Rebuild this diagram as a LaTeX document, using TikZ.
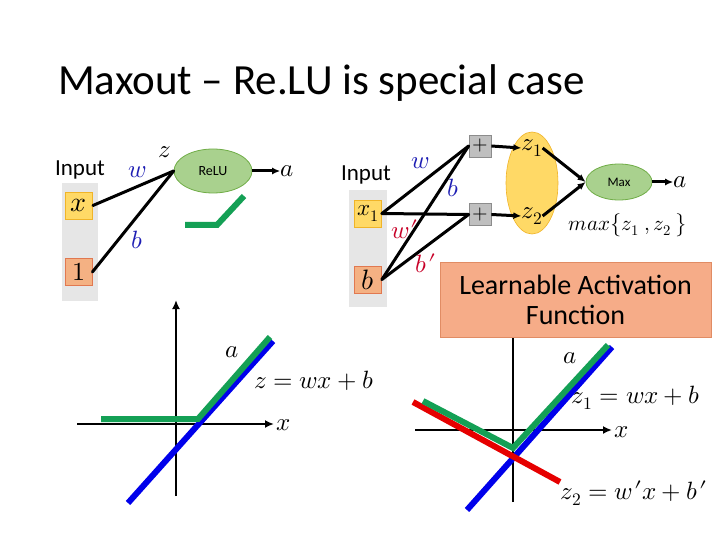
\documentclass[tikz,border=0pt]{standalone}
\usepackage{fontspec}
\usepackage{unicode-math}
\setmainfont{Carlito}
\setmathfont{Latin Modern Math}
\usetikzlibrary{arrows.meta,shapes.geometric}
\definecolor{ggreen}{RGB}{20,160,85}
\definecolor{gblue}{RGB}{0,0,235}
\definecolor{gred}{RGB}{230,0,0}
\definecolor{lblue}{RGB}{30,30,180}
\definecolor{lred}{RGB}{200,0,40}
\definecolor{yfill}{RGB}{255,217,102}
\definecolor{ydraw}{RGB}{240,180,40}
\definecolor{sfill}{RGB}{244,177,131}
\definecolor{sdraw}{RGB}{225,120,80}
\definecolor{gfill}{RGB}{169,209,142}
\definecolor{gdraw}{RGB}{112,173,71}
\definecolor{band}{RGB}{230,230,230}
\definecolor{pfill}{RGB}{191,191,191}
\definecolor{pdraw}{RGB}{140,140,140}
\definecolor{lfill}{RGB}{246,172,136}
\definecolor{ldraw}{RGB}{225,140,100}
\newcommand{\pr}{\mkern1mu\prime}
\tikzset{
  fs/.style={font=\fontsize{#1}{#1}\selectfont},
  inbox/.style={draw=ydraw, fill=yfill, line width=0.8pt, minimum width=27pt, minimum height=27pt, inner sep=0pt},
  onebox/.style={draw=sdraw, fill=sfill, line width=0.8pt, minimum width=27pt, minimum height=27pt, inner sep=0pt},
  actell/.style={ellipse, draw=gdraw, fill=gfill, line width=0.8pt, inner sep=0pt},
  plusbox/.style={draw=pdraw, fill=pfill, line width=0.8pt, minimum width=22pt, minimum height=22pt, inner sep=0pt, fs=20},
  wire/.style={line width=3pt, line cap=round},
  arr/.style={line width=3pt, -{Latex[length=8pt,width=7pt]}},
  axis/.style={line width=2.5pt, -{Latex[length=9pt,width=8pt]}},
  curve/.style={line width=6pt},
  mlab/.style={fs=25, inner sep=0pt},
}
\begin{document}
\begin{tikzpicture}[x=1pt,y=-1pt]
\useasboundingbox (0,0) rectangle (720,540);
\fill[white] (0,0) rectangle (720,540);

% title
\node[fs=43, anchor=base west, inner sep=0pt] (title) at (58,95) {Maxout – Re.LU is special case};

% ---------- left network ----------
\node[fs=23, inner sep=0pt] (in1) at (80,170) {Input};
\fill[band] (62,183) rectangle (98,301);
\node[inbox] (xb) at (79,205.5) {\fontsize{28}{28}\selectfont$x$};
\node[onebox] (ob) at (78.5,272) {\fontsize{26}{26}\selectfont$1$};
\node[actell, minimum width=78pt, minimum height=44pt] (relu) at (213,171) {\fontsize{14}{14}\selectfont ReLU};
\draw[wire] (xb.east) -- (relu.west);
\draw[wire] (ob.east) -- (relu.west);
\node[mlab] (zl) at (165,152) {$z$};
\node[mlab, text=lblue] (wl) at (137,172) {$w$};
\node[mlab, text=lblue] (bl) at (137,240) {$b$};
\node[mlab] (al) at (287,171) {$a$};
\draw[arr] (relu.east) -- (al.west);
\draw[ggreen, line width=6pt] (185,225) -- (217,225) -- (244,196);

% ---------- left plot ----------
\coordinate (ly0) at (176,496);
\coordinate (ly1) at (176,300);
\coordinate (lx0) at (77,424);
\coordinate (lx1) at (274,424);
\draw[axis] (ly0) -- (ly1);
\draw[axis] (lx0) -- (lx1);
\node[mlab] (lxl) at (284,425) {$x$};
\draw[curve, gblue] (128,503) -- (273,341);
\draw[curve, ggreen] (101,419) -- (198,419) -- (270,337);
\node[mlab] (lal) at (232,352) {$a$};
\node[mlab] (leq) at (314,381) {$z=wx+b$};

% ---------- right network ----------
\node[fs=23, inner sep=0pt] (in2) at (366,175) {Input};
\fill[band] (349,190) rectangle (387,307);
\node[inbox] (x1b) at (368,213.5) {\fontsize{23}{23}\selectfont$x_1$};
\node[onebox] (bb) at (368,279.5) {\fontsize{28}{28}\selectfont$b$};
\node[plusbox] (p1) at (480,146) {$+$};
\node[plusbox] (p2) at (480,214.5) {$+$};
\draw[wire] (x1b.east) -- (p1.west);
\draw[wire] (x1b.east) -- (p2.west);
\draw[wire] (bb.east) -- (p1.west);
\draw[wire] (bb.east) -- (p2.west);
\node[mlab, text=lblue] (wr) at (420,163) {$w$};
\node[mlab, text=lblue] (br) at (453,188) {$b$};
\node[mlab, text=lred] (wpr) at (405,229) {$w\pr$};
\node[mlab, text=lred] (bpr) at (426,263) {$b\pr$};
\node[ellipse, draw=ydraw, fill=yfill, line width=0.6pt, minimum width=52pt, minimum height=102pt, inner sep=0pt] (zell) at (532,183) {};
\node[mlab] (z1) at (532,148) {$z_1$};
\node[mlab] (z2) at (532,216) {$z_2$};
\draw[arr] (p1.east) -- (z1.west);
\draw[arr] (p2.east) -- (z2.west);
\node[actell, minimum width=66pt, minimum height=36pt] (mx) at (619,182) {\fontsize{13}{13}\selectfont Max};
\draw[arr] (z1.east) -- (mx.west);
\draw[arr] (z2.east) -- (mx.west);
\node[mlab] (ar) at (680,182) {$a$};
\draw[arr] (mx.east) -- (ar.west);
\node[fs=21, inner sep=0pt] (mxf) at (628,225) {$max\bigl\{z_1\ ,z_2\ \bigr\}$};

% ---------- right plot ----------
\coordinate (ry0) at (513,502);
\coordinate (ry1) at (513,330);
\coordinate (rx0) at (415,430);
\coordinate (rx1) at (612,430);
\draw[line width=2.5pt] (ry0) -- (ry1);
\draw[axis] (rx0) -- (rx1);
\node[mlab] (rxl) at (622,432) {$x$};
\draw[curve, gblue] (467,510) -- (612,347);
\draw[curve, gred] (413,402) -- (560,482);
\draw[curve, ggreen] (423,401) -- (513,448) -- (608,345);
\node[mlab] (ral) at (570,358) {$a$};
\node[mlab] (req1) at (636,398) {$z_1=wx+b$};
\node[mlab] (req2) at (634,493) {$z_2=w\pr x+b\pr$};

% learnable box
\node[draw=ldraw, fill=lfill, line width=0.8pt, minimum width=271pt, minimum height=75pt, align=center, fs=28, inner sep=0pt] (learn) at (575.5,299.5) {Learnable Activation\\[2pt]Function};
\end{tikzpicture}
\end{document}
